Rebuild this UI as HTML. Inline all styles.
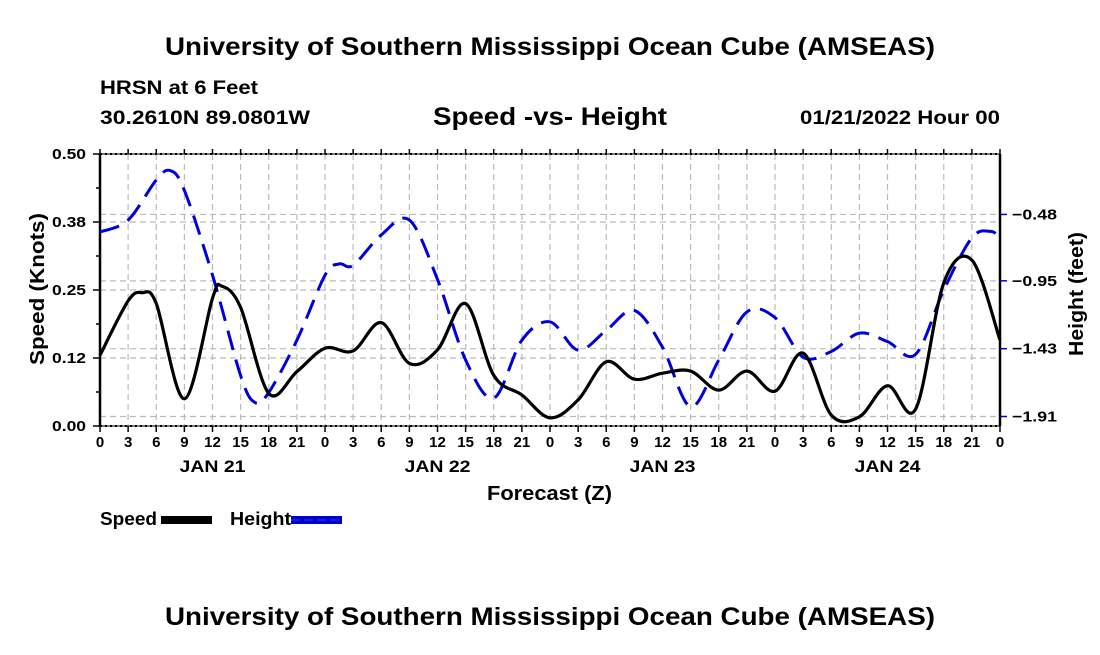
<!DOCTYPE html>
<html><head><meta charset="utf-8"><style>
body{margin:0;background:#fff;}
svg text{font-family:"Liberation Sans",Arial,sans-serif;font-weight:bold;fill:#000;}
</style></head><body>
<svg id="chart" width="1100" height="650" xmlns="http://www.w3.org/2000/svg">
<rect width="1100" height="650" fill="#fff"/>
<text x="165" y="55" font-size="25" textLength="770" lengthAdjust="spacingAndGlyphs">University of Southern Mississippi Ocean Cube (AMSEAS)</text>
<text x="100" y="94" font-size="19" textLength="158" lengthAdjust="spacingAndGlyphs">HRSN at 6 Feet</text>
<text x="100" y="124" font-size="19" textLength="210" lengthAdjust="spacingAndGlyphs">30.2610N  89.0801W</text>
<text x="433" y="125" font-size="25" textLength="234" lengthAdjust="spacingAndGlyphs">Speed -vs- Height</text>
<text x="800" y="124" font-size="19" textLength="200" lengthAdjust="spacingAndGlyphs">01/21/2022 Hour 00</text>
<g id="grid"></g>
<g id="axes"></g>
<g id="series"></g>
<text transform="translate(44,365) rotate(-90)" font-size="20" textLength="152" lengthAdjust="spacingAndGlyphs">Speed (Knots)</text>
<text transform="translate(1083,356) rotate(-90)" font-size="20" textLength="124" lengthAdjust="spacingAndGlyphs">Height (feet)</text>
<text x="487" y="500" font-size="20" textLength="125" lengthAdjust="spacingAndGlyphs">Forecast (Z)</text>
<g>
<text x="100" y="525" font-size="18" textLength="57" lengthAdjust="spacingAndGlyphs">Speed</text>
<rect x="161" y="516" width="51" height="8" fill="#000"/>
<text x="230" y="525" font-size="18" textLength="61" lengthAdjust="spacingAndGlyphs">Height</text>
<rect x="291" y="516" width="51" height="8" fill="#0000cc"/>
<line x1="291" y1="520" x2="342" y2="520" stroke="#3333ff" stroke-width="1" stroke-dasharray="9,4"/>
</g>
<text x="165" y="625" font-size="25" textLength="770" lengthAdjust="spacingAndGlyphs">University of Southern Mississippi Ocean Cube (AMSEAS)</text>
</svg>
<script>
const speedHours=[0,3,4.5,6,9,12,13,15,18,21,24,27,30,33,36,39,42,45,48,51,54,57,60,63,66,69,72,75,78,81,84,87,90,93,96];
const speedValues=[0.13,0.23,0.245,0.225,0.05,0.235,0.257,0.218,0.06,0.10,0.143,0.138,0.19,0.115,0.14,0.225,0.093,0.057,0.015,0.048,0.118,0.086,0.097,0.101,0.066,0.101,0.064,0.134,0.02,0.017,0.074,0.031,0.263,0.305,0.158];
const heightHours=[0,3,6,7.5,9,12,15,16.5,18,21,24,25.5,27,30,33,36,39,42,45,48,51,54,57,60,63,66,69,72,75,78,81,84,87,90,93,95,96];
const heightValues=[-0.604,-0.52,-0.236,-0.17,-0.31,-0.91,-1.62,-1.81,-1.74,-1.37,-0.91,-0.83,-0.84,-0.625,-0.52,-0.94,-1.51,-1.78,-1.37,-1.24,-1.44,-1.30,-1.16,-1.42,-1.84,-1.51,-1.17,-1.21,-1.49,-1.45,-1.32,-1.38,-1.47,-1.015,-0.645,-0.60,-0.645];
const speedTicks=[0,0.125,0.25,0.375,0.5];
const speedTickLabels=["0.00","0.12","0.25","0.38","0.50"];
const heightTicks=[-1.91,-1.43,-0.95,-0.48];
const heightTickLabels=["\u22121.91","\u22121.43","\u22120.95","\u22120.48"];
const hourLabels=["0","3","6","9","12","15","18","21"];
const dayLabels=["JAN 21","JAN 22","JAN 23","JAN 24"];

const X0=100,X1=1000,YT=154,YB=426;
const xs=h=>X0+(X1-X0)*h/96;
const ys=v=>YB-(YB-YT)*v/0.5;
const yh=v=>416.5-(v+1.91)*141.3;
const NS="http://www.w3.org/2000/svg";
function mk(tag,attrs,parent){const e=document.createElementNS(NS,tag);for(const k in attrs)e.setAttribute(k,attrs[k]);document.getElementById(parent).appendChild(e);return e;}

for(let i=0;i<=32;i++){const x=xs(i*3);
 const g=mk('line',{x1:x,y1:YT,x2:x,y2:YB,stroke:'#bbb','stroke-width':1.2,'stroke-dasharray':'6,4'},'grid');
 
 }
speedTicks.forEach(v=>{const l=mk('line',{x1:X0,y1:ys(v),x2:X1,y2:ys(v),stroke:'#bbb','stroke-width':1.2,'stroke-dasharray':'6,4'},'grid');
 
 });
heightTicks.forEach(v=>{const l=mk('line',{x1:X0,y1:yh(v),x2:X1,y2:yh(v),stroke:'#bbb','stroke-width':1.2,'stroke-dasharray':'6,4'},'grid');
 
 });

const frame=mk('rect',{x:X0,y:YT,width:X1-X0,height:YB-YT,fill:'none',stroke:'#000','stroke-width':1},'axes');


mk('line',{x1:X0,y1:YT,x2:X1,y2:YT,stroke:'#000','stroke-width':2,'stroke-dasharray':'2,3'},'axes');
mk('line',{x1:X0,y1:YB,x2:X1,y2:YB,stroke:'#000','stroke-width':2,'stroke-dasharray':'2,3'},'axes');
mk('line',{x1:X0,y1:YT,x2:X0,y2:YB,stroke:'#000','stroke-width':2.5},'axes');
mk('line',{x1:X1,y1:YT,x2:X1,y2:YB,stroke:'#000','stroke-width':2.5},'axes');
for(let i=0;i<=32;i++){const x=xs(i*3);
 mk('line',{x1:x,y1:YB,x2:x,y2:YB+6,stroke:'#000','stroke-width':1.5},'axes');
 mk('line',{x1:x,y1:YT,x2:x,y2:YT-5,stroke:'#000','stroke-width':1.5},'axes');
 const t=mk('text',{x:x,y:YB+21,'font-size':15,'text-anchor':'middle'},'axes');
 t.textContent=hourLabels[i%8];
 
 }
dayLabels.forEach((d,i)=>{const t=mk('text',{x:xs(12+24*i)-33,y:YB+46,'font-size':17,textLength:66,lengthAdjust:'spacingAndGlyphs'},'axes');
 t.textContent=d;
 
 });
speedTicks.forEach((v,i)=>{mk('line',{x1:X0-7,y1:ys(v),x2:X0,y2:ys(v),stroke:'#000','stroke-width':1.5},'axes');
 if(i<4)mk('line',{x1:X0-4,y1:ys(v+0.0625),x2:X0,y2:ys(v+0.0625),stroke:'#000','stroke-width':1.5},'axes');
 const t=mk('text',{x:X0-48,y:ys(v)+5,'font-size':15,textLength:34,lengthAdjust:'spacingAndGlyphs'},'axes');
 t.textContent=speedTickLabels[i];
 
 });
heightTicks.forEach((v,i)=>{mk('line',{x1:X1,y1:yh(v),x2:X1+7,y2:yh(v),stroke:'#0000cc','stroke-width':1.5},'axes');
 const t=mk('text',{x:X1+12,y:yh(v)+5,'font-size':15,textLength:45,lengthAdjust:'spacingAndGlyphs'},'axes');
 t.textContent=heightTickLabels[i];
 
 });

function spline(pts){let d='M'+pts[0][0]+','+pts[0][1];
 for(let i=0;i<pts.length-1;i++){const p0=pts[Math.max(0,i-1)],p1=pts[i],p2=pts[i+1],p3=pts[Math.min(pts.length-1,i+2)];
  const c1=[p1[0]+(p2[0]-p0[0])/6,p1[1]+(p2[1]-p0[1])/6],c2=[p2[0]-(p3[0]-p1[0])/6,p2[1]-(p3[1]-p1[1])/6];
  d+=' C'+c1[0].toFixed(1)+','+c1[1].toFixed(1)+' '+c2[0].toFixed(1)+','+c2[1].toFixed(1)+' '+p2[0].toFixed(1)+','+p2[1].toFixed(1);}
 return d;}
const hp=heightHours.map((h,i)=>[xs(h),yh(heightValues[i])]);
const hl=mk('path',{d:spline(hp),fill:'none',stroke:'#0000dd','stroke-width':3,'stroke-dasharray':'20,10'},'series');


const sp=speedHours.map((h,i)=>[xs(h),ys(speedValues[i])]);
const sl=mk('path',{d:spline(sp),fill:'none',stroke:'#000','stroke-width':3.2},'series');


</script>
</body></html>
